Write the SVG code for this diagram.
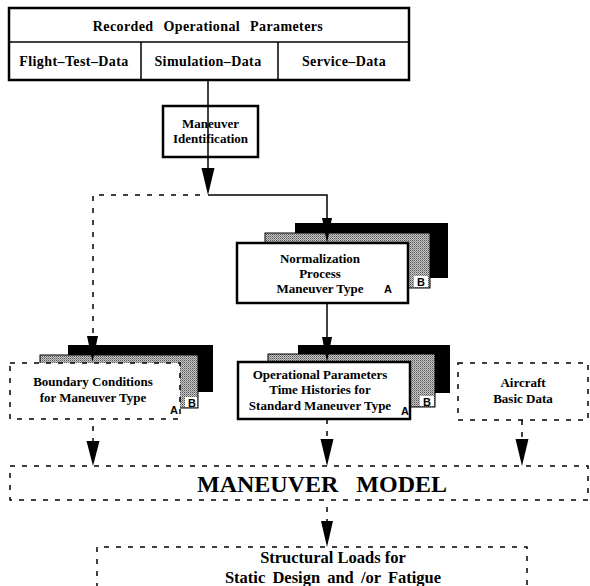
<svg xmlns="http://www.w3.org/2000/svg" width="590" height="586" viewBox="0 0 590 586">
<defs>
<pattern id="stip" width="2" height="2" patternUnits="userSpaceOnUse">
<rect width="2" height="2" fill="#c8c8c8"/>
<rect width="1" height="1" fill="#555"/>
<rect x="1" y="1" width="1" height="1" fill="#888"/>
</pattern>
<style>
.t{font-family:"Liberation Serif","Times New Roman",serif;font-weight:bold;fill:#000;text-anchor:middle}
.top{font-size:14px;letter-spacing:0.4px}
.n{font-size:13px}
.big{font-size:24px;word-spacing:12px}
.sl{font-size:16.5px}
.lab{font-family:"Liberation Sans",Arial,sans-serif;font-weight:bold;font-size:11px;text-anchor:middle;fill:#000}
.solid{fill:#fff;stroke:#000;stroke-width:2.5}
.dash{fill:#fff;stroke:#000;stroke-width:1.5;stroke-dasharray:5 7}
.blk{fill:#000}
.gry{fill:url(#stip);stroke:#000;stroke-width:1}
.ln{fill:none;stroke:#000;stroke-width:1.5}
.dl{fill:none;stroke:#000;stroke-width:1.5;stroke-dasharray:5 7}
.ah{fill:#000}
</style>
</defs>
<rect width="590" height="586" fill="#fff"/>

<g id="recorded-parameters">
<rect class="solid" x="9" y="8" width="400" height="72"/>
<line class="ln" x1="9" y1="42" x2="409" y2="42"/>
<line class="ln" x1="141" y1="42" x2="141" y2="80"/>
<line class="ln" x1="278" y1="42" x2="278" y2="80"/>
<text class="t top" x="208" y="31" style="word-spacing:6px">Recorded Operational Parameters</text>
<text class="t top" x="74" y="66">Flight–Test–Data</text>
<text class="t top" x="208" y="66">Simulation–Data</text>
<text class="t top" x="344" y="66">Service–Data</text>
</g>

<g id="maneuver-identification">
<rect class="solid" x="163" y="106" width="95" height="51"/>
<text class="t n" x="210.5" y="128">Maneuver</text>
<text class="t n" x="210.5" y="143">Identification</text>
</g>

<g id="normalization-process">
<rect class="blk" x="295" y="223" width="153" height="55"/>
<rect class="gry" x="265" y="233" width="165" height="55"/>
<rect x="414" y="276" width="14" height="11" fill="#fff"/>
<text class="lab" x="421" y="286">B</text>
<rect class="solid" x="237" y="243" width="171" height="60"/>
<text class="t n" x="320" y="263">Normalization</text>
<text class="t n" x="320" y="278">Process</text>
<text class="t n" x="320" y="293">Maneuver Type</text>
<text class="lab" x="388" y="293">A</text>
</g>

<g id="boundary-conditions">
<rect class="blk" x="68" y="345" width="145" height="47"/>
<rect class="gry" x="40" y="355" width="158" height="53"/>
<rect x="185" y="397" width="12" height="10" fill="#fff"/>
<text class="lab" x="192" y="407">B</text>
<rect class="dash" x="10" y="363" width="170" height="56"/>
<text class="t n" x="93" y="386">Boundary Conditions</text>
<text class="t n" x="93" y="402">for Maneuver Type</text>
<text class="lab" x="174" y="414">A</text>
</g>

<g id="operational-parameters">
<rect class="blk" x="298" y="345" width="152" height="48"/>
<rect class="gry" x="268" y="354" width="167" height="53"/>
<rect x="420" y="396" width="14" height="10" fill="#fff"/>
<text class="lab" x="427" y="406">B</text>
<rect class="solid" x="238" y="362" width="172" height="57"/>
<text class="t n" x="320" y="379">Operational Parameters</text>
<text class="t n" x="320" y="394">Time Histories for</text>
<text class="t n" x="320" y="410">Standard Maneuver Type</text>
<text class="lab" x="405" y="415">A</text>
</g>

<g id="aircraft-basic-data">
<rect class="dash" x="458" y="363" width="130" height="57"/>
<text class="t n" x="523" y="387">Aircraft</text>
<text class="t n" x="523" y="403">Basic Data</text>
</g>

<g id="maneuver-model">
<rect class="dash" x="10" y="466" width="578" height="34"/>
<text class="t big" x="322" y="492">MANEUVER MODEL</text>
</g>

<g id="structural-loads">
<path class="dl" d="M97,600 V547 H527 V600"/>
<text class="t sl" x="333" y="563">Structural Loads for</text>
<text class="t sl" x="333" y="583" style="word-spacing:3px">Static Design and /or Fatigue</text>
</g>

<g id="connectors">
<line class="ln" x1="208" y1="80" x2="208" y2="170"/>
<path class="ah" d="M201.5,168 L214.5,168 L208,195 Z"/>
<path class="ln" d="M208,195 H327 V222"/>
<path class="dl" d="M200,195 H93 V336"/>
<path class="ah" d="M322,218 L332,218 L327,243 Z"/>
<path class="ah" d="M87,336 L98,336 L92.5,362 Z"/>
<line class="ln" x1="327" y1="303" x2="327" y2="340"/>
<path class="ah" d="M322,337 L332,337 L327,362 Z"/>
<line class="dl" x1="93" y1="426" x2="93" y2="443"/>
<path class="ah" d="M86.5,441 L99.5,441 L93,466 Z"/>
<line class="dl" x1="327" y1="419" x2="327" y2="440"/>
<path class="ah" d="M320.5,439 L333.5,439 L327,466 Z"/>
<line class="dl" x1="522" y1="420" x2="522" y2="441"/>
<path class="ah" d="M515.5,439 L528.5,439 L522,466 Z"/>
<line class="dl" x1="327" y1="507" x2="327" y2="523"/>
<path class="ah" d="M321,521 L333,521 L327,547 Z"/>
</g>
</svg>
